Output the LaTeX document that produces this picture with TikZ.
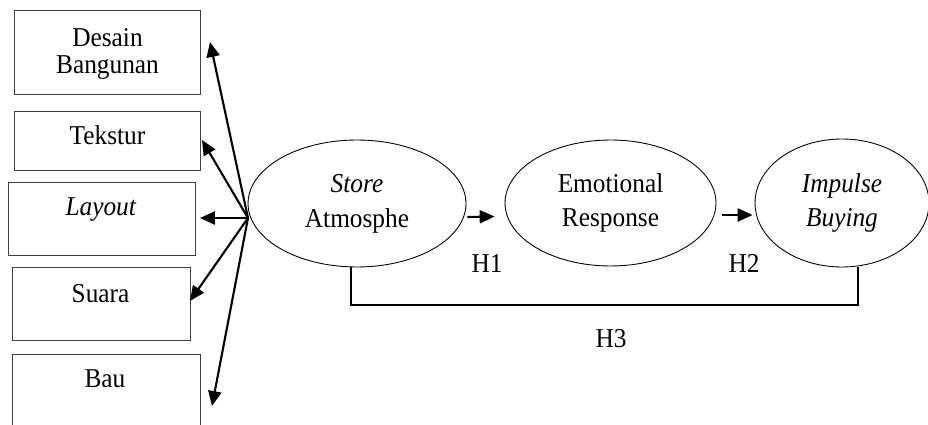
\documentclass[tikz,border=0pt]{standalone}
\usepackage{fontspec}
\setmainfont{Liberation Serif}[FakeStretch=0.93]
\usetikzlibrary{arrows.meta,positioning,shapes.geometric}

\begin{document}
\begin{tikzpicture}[x=0.02cm, y=-0.02cm,
    box/.style={rectangle, draw=black!75, line width=0.5pt, inner sep=0},
    lbl/.style={font=\fontsize{15.5}{15.3}\selectfont, align=center, inner sep=0},
    construct/.style={ellipse, draw, line width=0.5pt, inner sep=0, align=center, font=\fontsize{15.5}{19.8}\selectfont},
    arr/.style={line width=1.2pt, -{Triangle[length=8.5pt, width=7.5pt]}},
]
    \useasboundingbox (0,0) rectangle (928,425);
    \clip (0,0) rectangle (928,425);

    \node[box, minimum width=3.72cm, minimum height=1.68cm] (desain) at (107,52) {};
    \node[box, minimum width=3.72cm, minimum height=1.18cm] (tekstur) at (107,140.5) {};
    \node[box, minimum width=3.74cm, minimum height=1.46cm] (layout) at (101.5,218.5) {};
    \node[box, minimum width=3.56cm, minimum height=1.46cm] (suara) at (101,303.5) {};
    \node[box, minimum width=3.76cm, minimum height=1.8cm] (bau) at (106,399) {};

    \node[lbl] (desainlbl) at (107.5,54) {Desain\\Bangunan};
    \node[lbl, anchor=base] (teksturlbl) at (107.5,145) {Tekstur};
    \node[lbl, anchor=base] (layoutlbl) at (101,215) {\textit{Layout}};
    \node[lbl, anchor=base] (suaralbl) at (100.5,302) {Suara};
    \node[lbl, anchor=base] (baulbl) at (105,387) {Bau};

    \node[construct, minimum width=4.36cm, minimum height=2.54cm] (store) at (357,203.5) {\textit{Store}\\Atmosphe};
    \node[construct, minimum width=4.22cm, minimum height=2.52cm] (emo) at (610.5,203) {Emotional\\Response};
    \node[construct, minimum width=3.48cm, minimum height=2.56cm] (impulse) at (842,203) {\textit{Impulse}\\\textit{Buying}};

    \coordinate (hub) at (248,218);
    \coordinate (tipdesain) at (210,42);
    \coordinate (tiptekstur) at (202,140);
    \coordinate (tiplayout) at (200,218);
    \coordinate (tipsuara) at (190,301);
    \coordinate (tipbau) at (212,406);

    \draw[arr] (hub) -- (tipdesain);
    \draw[arr] (hub) -- (tiptekstur);
    \draw[arr] (hub) -- (tiplayout);
    \draw[arr] (hub) -- (tipsuara);
    \draw[arr] (hub) -- (tipbau);

    \draw[arr] ([shift={(1,13.5)}]store.east) -- ([shift={(-10,13.5)}]emo.west);
    \draw[arr] ([shift={(6,12)}]emo.east) -- ([shift={(-2,12)}]impulse.west);
    \draw[line width=0.6pt] ([shift={(-6,0)}]store.south) |- (611,305) -| ([shift={(16,0)}]impulse.south);

    \node[lbl, anchor=base] (h1) at (487,273) {H1};
    \node[lbl, anchor=base] (h2) at (744,272) {H2};
    \node[lbl, anchor=base] (h3) at (611,347) {H3};
\end{tikzpicture}
\end{document}
